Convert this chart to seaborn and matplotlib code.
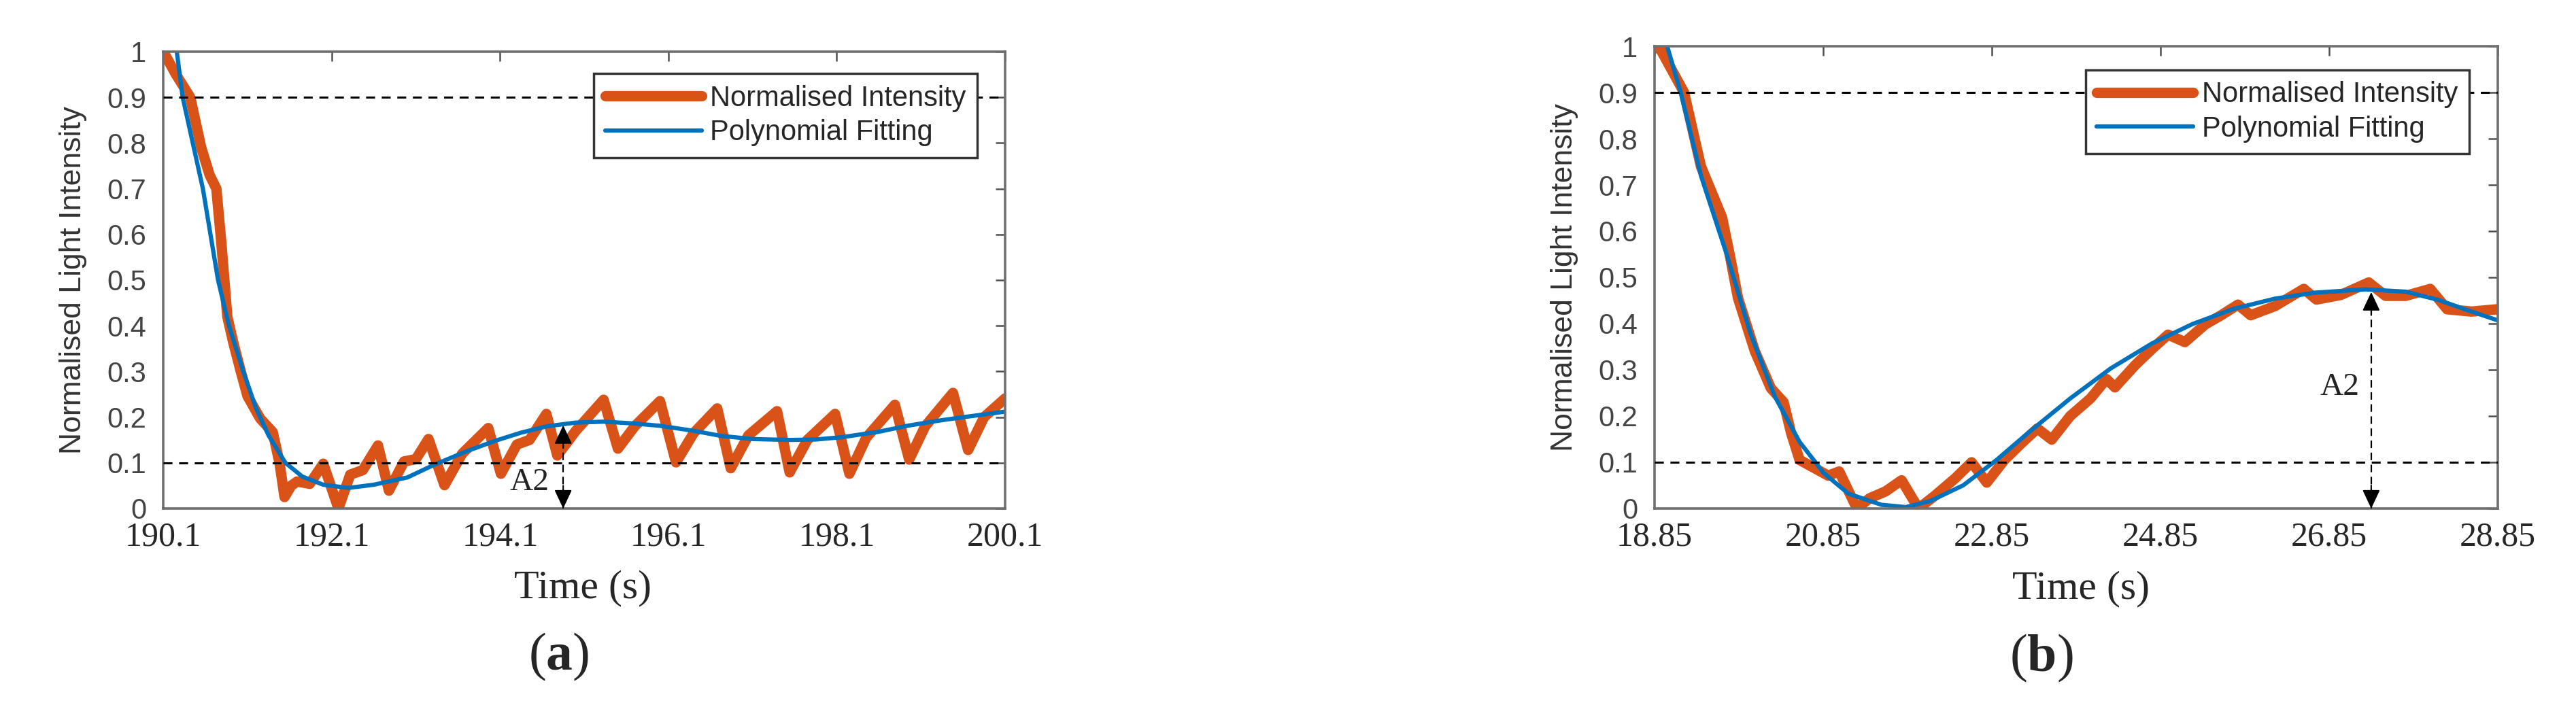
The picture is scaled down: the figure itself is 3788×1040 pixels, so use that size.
import matplotlib
matplotlib.use('Agg')
import matplotlib.pyplot as plt
import seaborn as sns
import pandas as pd

# ---- panel (a) data ----
a_meas_time = [190.1, 190.25, 190.42, 190.55, 190.65, 190.73, 190.79, 190.86, 190.93, 191.02,
               191.1, 191.25, 191.4, 191.48, 191.54, 191.62, 191.69, 191.84, 192.0, 192.18,
               192.32, 192.47, 192.65, 192.78, 192.96, 193.1, 193.25, 193.44, 193.65, 193.96,
               194.11, 194.3, 194.45, 194.65, 194.78, 195.0, 195.33, 195.5, 195.7, 196.0,
               196.19, 196.4, 196.68, 196.84, 197.05, 197.39, 197.54, 197.75, 198.08, 198.25,
               198.45, 198.79, 198.96, 199.15, 199.48, 199.66, 199.85, 200.1]
a_meas_val = [1.0, 0.95, 0.90, 0.79, 0.73, 0.70, 0.58, 0.42, 0.364, 0.30,
              0.246, 0.197, 0.167, 0.10, 0.025, 0.05, 0.059, 0.054, 0.098, 0.0,
              0.074, 0.084, 0.138, 0.039, 0.103, 0.108, 0.152, 0.051, 0.12, 0.176,
              0.076, 0.14, 0.15, 0.207, 0.116, 0.17, 0.238, 0.131, 0.18, 0.235,
              0.101, 0.165, 0.219, 0.088, 0.16, 0.213, 0.079, 0.15, 0.207, 0.076,
              0.155, 0.227, 0.107, 0.18, 0.253, 0.128, 0.2, 0.241]
a_fit_time = [190.2, 190.26, 190.33, 190.45, 190.57, 190.66, 190.75, 190.88, 191.05, 191.2,
              191.35, 191.55, 191.75, 192.0, 192.3, 192.6, 193.0, 193.31, 193.7, 194.04,
              194.35, 194.66, 195.0, 195.33, 195.7, 196.0, 196.4, 196.72, 197.1, 197.54,
              197.85, 198.16, 198.6, 198.94, 199.3, 199.61, 200.1]
a_fit_val = [1.10, 1.0, 0.90, 0.80, 0.70, 0.60, 0.50, 0.40, 0.30, 0.22,
             0.16, 0.10, 0.07, 0.052, 0.045, 0.052, 0.068, 0.095, 0.125, 0.148,
             0.166, 0.18, 0.188, 0.19, 0.186, 0.181, 0.17, 0.159, 0.152, 0.15,
             0.151, 0.156, 0.168, 0.181, 0.192, 0.2, 0.212]
a_xticks = [190.1, 192.1, 194.1, 196.1, 198.1, 200.1]
a_xticklabels = ['190.1', '192.1', '194.1', '196.1', '198.1', '200.1']
a_a2_time, a_a2_top = 194.85, 0.182
a_a2_label_pos = (194.45, 0.057)

# ---- panel (b) data ----
b_meas_time = [18.85, 18.9, 19.2, 19.4, 19.65, 19.74, 19.84, 20.04, 20.23, 20.38,
               20.47, 20.57, 20.76, 20.91, 21.04, 21.25, 21.4, 21.59, 21.78, 21.98,
               22.17, 22.42, 22.61, 22.79, 23.0, 23.19, 23.39, 23.56, 23.78, 24.02,
               24.21, 24.31, 24.55, 24.75, 24.94, 25.14, 25.38, 25.57, 25.77, 25.92,
               26.21, 26.55, 26.7, 26.99, 27.32, 27.52, 27.76, 28.05, 28.25, 28.54, 28.85]
b_meas_val = [0.995, 1.0, 0.90, 0.74, 0.63, 0.55, 0.455, 0.34, 0.26, 0.23,
              0.163, 0.105, 0.086, 0.071, 0.08, 0.0, 0.022, 0.037, 0.061, 0.0,
              0.027, 0.066, 0.10, 0.056, 0.105, 0.139, 0.173, 0.149, 0.20, 0.238,
              0.28, 0.262, 0.31, 0.345, 0.376, 0.36, 0.398, 0.418, 0.441, 0.418,
              0.438, 0.475, 0.452, 0.462, 0.489, 0.46, 0.46, 0.475, 0.431, 0.426, 0.431]
b_fit_time = [18.9, 19.0, 19.16, 19.4, 19.7, 19.99, 20.28, 20.57, 20.86, 21.15,
              21.54, 21.83, 22.12, 22.51, 22.9, 23.29, 23.78, 24.26, 24.75, 25.23,
              25.72, 26.21, 26.69, 27.28, 27.76, 28.15, 28.54, 28.85]
b_fit_val = [1.08, 1.0, 0.90, 0.72, 0.553, 0.377, 0.241, 0.144, 0.076, 0.032,
             0.008, 0.003, 0.016, 0.05, 0.104, 0.165, 0.238, 0.303, 0.357, 0.399,
             0.432, 0.454, 0.467, 0.474, 0.469, 0.451, 0.426, 0.407]
b_xticks = [18.85, 20.85, 22.85, 24.85, 26.85, 28.85]
b_xticklabels = ['18.85', '20.85', '22.85', '24.85', '26.85', '28.85']
b_a2_time, b_a2_top = 27.35, 0.468
b_a2_label_pos = (26.98, 0.262)

y_ticks = [0, 0.1, 0.2, 0.3, 0.4, 0.5, 0.6, 0.7, 0.8, 0.9, 1.0]
y_ticklabels = ['0', '0.1', '0.2', '0.3', '0.4', '0.5', '0.6', '0.7', '0.8', '0.9', '1']
thresholds = [0.9, 0.1]

ORANGE = '#D95319'
BLUE = '#0072BD'
SERIF = ['Liberation Serif', 'DejaVu Serif']

sns.set_theme(style='white')
plt.rcParams['font.family'] = ['Liberation Sans', 'DejaVu Sans']
plt.rcParams['mathtext.fontset'] = 'custom'
plt.rcParams['mathtext.rm'] = 'Liberation Serif'
plt.rcParams['mathtext.bf'] = 'Liberation Serif:bold'

fig = plt.figure(figsize=(37.88, 10.4), dpi=100)
ax_a = fig.add_axes([0.0634, 0.2808, 0.3268, 0.6462])
ax_b = fig.add_axes([0.6423, 0.2808, 0.3273, 0.6538])


def draw_panel(ax, mt, mv, ft, fv, xticks, xlabels, a2_t, a2_top, a2_pos,
               leg_anchor, ylab_x, xlab_pos):
    meas = pd.DataFrame({'t': mt, 'v': mv})
    fit = pd.DataFrame({'t': ft, 'v': fv})
    sns.lineplot(data=meas, x='t', y='v', ax=ax, color=ORANGE, linewidth=11,
                 estimator=None, sort=False, label='Normalised Intensity',
                 solid_joinstyle='round', solid_capstyle='round', zorder=2)
    sns.lineplot(data=fit, x='t', y='v', ax=ax, color=BLUE, linewidth=4.5,
                 estimator=None, sort=False, label='Polynomial Fitting',
                 solid_joinstyle='round', zorder=2.5)

    # threshold lines
    for th in thresholds:
        ax.axhline(th, color='black', lw=2.2, ls=(0, (4.3, 3.2)), zorder=3)

    # A2 double arrow
    ax.plot([a2_t, a2_t], [0, a2_top], color='black', lw=1.6,
            ls=(0, (5, 3)), zorder=3)
    for tip, tail in [(a2_top, a2_top - 0.05), (0, 0.05)]:
        ax.annotate('', xy=(a2_t, tip), xytext=(a2_t, tail),
                    arrowprops=dict(arrowstyle='-|>,head_length=0.85,head_width=0.4',
                                    color='black', lw=1.5, shrinkA=0, shrinkB=0,
                                    mutation_scale=20), zorder=4)
    ax.text(a2_pos[0], a2_pos[1], 'A2', family=SERIF, fontsize=34,
            ha='center', va='center', color='#222222', zorder=4)

    ax.set_xlim(xticks[0], xticks[-1])
    ax.set_ylim(0, 1)
    ax.set_xticks(xticks)
    ax.set_xticklabels(xlabels, family=SERIF, fontsize=36, color='#262626')
    ax.set_yticks(y_ticks)
    ax.set_yticklabels(y_ticklabels, fontsize=30, color='#444444')
    ax.tick_params(axis='both', direction='in', top=True, right=True,
                   length=10, width=1.8, color='#505050')
    ax.tick_params(axis='x', pad=14)
    ax.tick_params(axis='y', pad=18)

    for s in ax.spines.values():
        s.set_color('#6f6f6f')
        s.set_linewidth(2.6)

    ax.set_ylabel('Normalised Light Intensity', fontsize=32, color='#333333')
    ax.yaxis.set_label_coords(ylab_x, 0.5)
    ax.set_xlabel('Time (s)', family=SERIF, fontsize=43, color='#262626')
    ax.xaxis.set_label_coords(xlab_pos[0], xlab_pos[1])

    leg = ax.legend(loc='upper right', bbox_to_anchor=leg_anchor, borderaxespad=0,
                    frameon=True, fancybox=False, framealpha=1, edgecolor='#333333',
                    fontsize=30, handlelength=3.4, handletextpad=0.3,
                    labelspacing=0.25, borderpad=0.4)
    leg.get_frame().set_linewidth(2.5)
    leg.set_zorder(6)


draw_panel(ax_a, a_meas_time, a_meas_val, a_fit_time, a_fit_val, a_xticks, a_xticklabels,
           a_a2_time, a_a2_top, a_a2_label_pos, (0.967, 0.952), -0.091, (0.498, -0.135))
draw_panel(ax_b, b_meas_time, b_meas_val, b_fit_time, b_fit_val, b_xticks, b_xticklabels,
           b_a2_time, b_a2_top, b_a2_label_pos, (0.966, 0.949), -0.09, (0.506, -0.134))

fig.text(0.217, 0.071, '(' + r'$\mathbf{a}$' + ')', family=SERIF, fontsize=56,
         ha='center', va='center')
fig.text(0.7925, 0.069, '(' + r'$\mathbf{b}$' + ')', family=SERIF, fontsize=56,
         ha='center', va='center')

fig.savefig('out.png', dpi=100)
